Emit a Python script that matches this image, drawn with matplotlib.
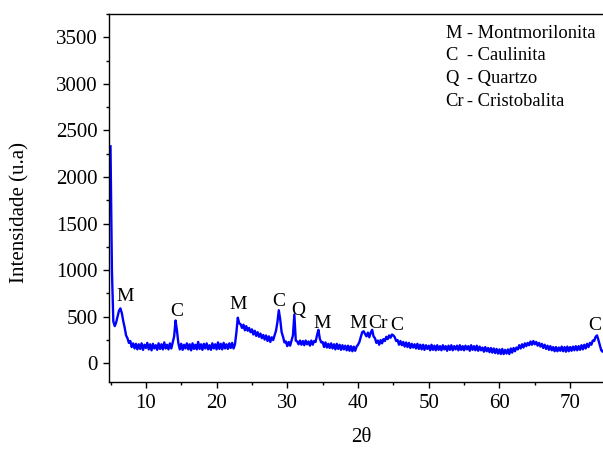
import numpy as np
import matplotlib
matplotlib.use("Agg")
import matplotlib.pyplot as plt
from matplotlib.ticker import MultipleLocator

plt.rcParams['font.family'] = ['Liberation Serif', 'DejaVu Serif']

two_theta = np.round(np.arange(5.0, 75.0001, 0.2), 1)
intensity = [
    2330, 1000, 450, 400, 440, 505, 565, 590, 540, 455,
    385, 300, 270, 220, 240, 175, 215, 160, 210, 150,
    205, 155, 215, 145, 200, 165, 220, 150, 205, 140,
    210, 160, 195, 145, 215, 155, 205, 150, 225, 160,
    200, 150, 215, 160, 225, 290, 460, 350, 215, 150,
    210, 145, 200, 160, 215, 150, 205, 140, 215, 155,
    200, 150, 230, 155, 205, 145, 210, 160, 215, 150,
    195, 145, 215, 160, 205, 150, 225, 155, 210, 150,
    220, 160, 205, 155, 215, 165, 220, 160, 205, 330,
    490, 430, 420, 380, 415, 355, 400, 350, 380, 335,
    365, 310, 350, 295, 335, 285, 320, 270, 305, 255,
    300, 240, 290, 230, 280, 250, 300, 350, 440, 570,
    470, 335, 285, 225, 235, 185, 230, 190, 245, 300,
    525, 245, 235, 205, 245, 200, 240, 195, 245, 205,
    235, 190, 245, 200, 240, 230, 300, 360, 265, 225,
    230, 175, 225, 170, 210, 165, 215, 160, 205, 150,
    210, 155, 200, 145, 195, 150, 190, 140, 190, 135,
    185, 130, 180, 135, 180, 200, 230, 285, 335, 345,
    315, 290, 330, 280, 330, 360, 290, 270, 220, 245,
    200, 250, 215, 260, 240, 285, 260, 300, 275, 310,
    300, 280, 240, 250, 200, 240, 195, 230, 180, 225,
    175, 220, 165, 210, 170, 205, 160, 210, 155, 200,
    150, 200, 145, 195, 155, 190, 140, 200, 145, 190,
    140, 195, 145, 185, 140, 195, 150, 185, 135, 190,
    145, 195, 140, 185, 150, 190, 140, 195, 145, 185,
    140, 190, 150, 185, 135, 195, 145, 185, 140, 190,
    135, 180, 140, 170, 125, 175, 130, 165, 120, 165,
    115, 160, 110, 155, 105, 150, 100, 155, 100, 145,
    105, 150, 100, 160, 115, 165, 130, 170, 150, 195,
    160, 205, 170, 215, 185, 220, 195, 235, 200, 240,
    205, 230, 190, 220, 180, 210, 165, 200, 155, 190,
    145, 185, 140, 175, 130, 175, 130, 170, 135, 180,
    130, 175, 125, 180, 130, 175, 135, 180, 140, 185,
    140, 185, 145, 195, 150, 200, 160, 210, 175, 220,
    200, 245, 240, 285, 300, 250, 195, 140, 125, 150,
    140,
]

# peak labels
peak_labels = ["M", "C", "M", "C", "Q", "M", "M", "Cr", "C", "C"]
peak_x = [7.1, 14.4, 23.1, 28.8, 31.6, 34.9, 40.05, 42.8, 45.5, 73.5]
peak_y = [672, 504, 583, 611, 522, 380, 380, 380, 354, 354]

legend_keys = ["M", "C", "Q", "Cr"]
legend_names = ["- Montmorilonita", "- Caulinita", "- Quartzo", "- Cristobalita"]

W, H = 603, 450
fig = plt.figure(figsize=(W / 100, H / 100), dpi=100)
ax = fig.add_axes([109.3 / W, (H - 382) / H, 496.2 / W, 368 / H])

ax.plot(two_theta, intensity, color='#0000ff', lw=1.7)

ax.set_xlim(4.83, 75)
ax.set_ylim(-200, 3750)
ax.xaxis.set_major_locator(MultipleLocator(10))
ax.xaxis.set_minor_locator(MultipleLocator(5))
ax.yaxis.set_major_locator(MultipleLocator(500))
ax.yaxis.set_minor_locator(MultipleLocator(250))
ax.tick_params(which='major', direction='out', length=4.5, width=1.0,
               labelsize=15, pad=4, top=False, right=False)
ax.tick_params(which='minor', direction='out', length=2.5, width=1.0,
               top=False, right=False)
for s in ax.spines.values():
    s.set_linewidth(1.0)

for lab, x, y in zip(peak_labels, peak_x, peak_y):
    ax.text(x, y, lab, ha='center', va='baseline', fontsize=14)

ys = [34, 56, 78, 101]
for key, name, yp in zip(legend_keys, legend_names, ys):
    fig.text(445 / W, 1 - yp / H, key, ha='left', va='center', fontsize=13.3)
    fig.text(467 / W, 1 - yp / H, name, ha='left', va='center', fontsize=13.3)

fig.text(20 / W, 1 - 212.5 / H, "Intensidade (u.a)", rotation=90,
         ha='center', va='center', fontsize=15)
fig.text(361 / W, 1 - 438 / H, "2θ", ha='center', va='center', fontsize=15)

fig.savefig("out.png", dpi=100)
